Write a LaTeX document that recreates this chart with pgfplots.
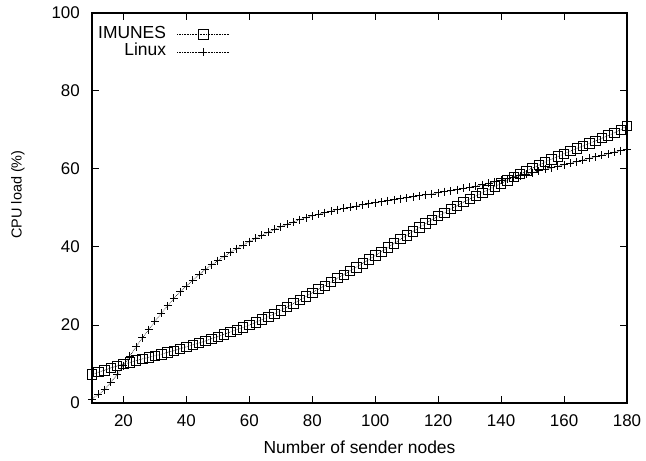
\documentclass[border=0pt]{standalone}
\usepackage{pgfplots}
\pgfplotsset{compat=1.18}
\usepackage{pgfplotstable}
\usepackage{fontspec}
\setmainfont{Liberation Sans}
\pgfplotstableread{
x y
10 7.3
12 7.9
14 8.4
16 9.0
18 9.5
20 10.0
22 10.4
24 10.9
26 11.3
28 11.7
30 12.1
32 12.5
34 13.0
36 13.4
38 13.9
40 14.4
42 14.9
44 15.4
46 15.9
48 16.5
50 17.0
52 17.6
54 18.2
56 18.8
58 19.4
60 20.0
62 20.7
64 21.4
66 22.1
68 22.9
70 23.7
72 24.6
74 25.5
76 26.4
78 27.3
80 28.3
82 29.2
84 30.1
86 31.0
88 32.0
90 32.9
92 33.9
94 34.8
96 35.8
98 36.8
100 37.8
102 38.8
104 39.9
106 40.9
108 42.0
110 43.0
112 44.0
114 45.0
116 46.0
118 47.0
120 47.9
122 48.8
124 49.7
126 50.6
128 51.5
130 52.3
132 53.1
134 53.9
136 54.7
138 55.5
140 56.3
142 57.1
144 57.9
146 58.7
148 59.5
150 60.3
152 61.0
154 61.8
156 62.5
158 63.2
160 63.9
162 64.6
164 65.3
166 65.9
168 66.6
170 67.2
172 67.9
174 68.6
176 69.3
178 70.1
180 71.0
}\imunes
\pgfplotstableread{
x y
10 1.0
12 2.2
14 3.4
16 5.3
18 7.3
20 9.6
22 12.0
24 14.4
26 16.7
28 18.8
30 20.9
32 23.0
34 24.9
36 26.8
38 28.5
40 30.0
42 31.5
44 32.9
46 34.2
48 35.4
50 36.5
52 37.6
54 38.6
56 39.6
58 40.5
60 41.4
62 42.2
64 43.0
66 43.8
68 44.5
70 45.2
72 45.8
74 46.4
76 47.0
78 47.5
80 48.0
82 48.4
84 48.8
86 49.2
88 49.6
90 49.9
92 50.2
94 50.5
96 50.8
98 51.1
100 51.4
102 51.6
104 51.9
106 52.1
108 52.4
110 52.6
112 52.9
114 53.1
116 53.4
118 53.6
120 53.9
122 54.2
124 54.4
126 54.7
128 55.0
130 55.3
132 55.6
134 56.0
136 56.3
138 56.7
140 57.1
142 57.5
144 57.9
146 58.3
148 58.7
150 59.1
152 59.5
154 59.9
156 60.3
158 60.7
160 61.1
162 61.5
164 61.9
166 62.3
168 62.7
170 63.1
172 63.5
174 63.9
176 64.3
178 64.7
180 65.1
}\linux
\begin{document}
\begin{tikzpicture}
\begin{axis}[
  scale only axis, width=535bp, height=390bp,
  xmin=10, xmax=180, ymin=0, ymax=100,
  xtick={20,40,...,180}, ytick={0,20,...,100},
  tick align=inside, major tick length=7bp,
  axis line style={line width=1.1bp}, tick style={line width=1bp, black},
  /pgf/number format/assume math mode=true,
  tick label style={font=\fontsize{17}{20}\selectfont, inner sep=0pt},
  xticklabel style={yshift=-11bp},
  yticklabel style={xshift=-12bp},
  xlabel={Number of sender nodes}, ylabel={CPU load (\%)},
  xlabel style={font=\fontsize{17.5}{20}\selectfont, at={(axis description cs:0.5,0)}, anchor=north, yshift=-38bp, inner sep=0pt},
  ylabel style={font=\fontsize{14.5}{16}\selectfont, at={(axis description cs:-0.13832,0.5346)}, anchor=center, inner sep=0pt},
  clip=false,
  legend plot pos=right, legend cell align=right,
  legend style={draw=none, fill=none, at={(axis description cs:0,1)}, anchor=north west, xshift=6bp, yshift=-12.4bp, inner sep=0pt, column sep=11bp, row sep=0pt, font=\fontsize{17.5}{20}\selectfont, nodes={inner sep=0pt, text height=12.6bp, text depth=5bp}},
  legend image code/.code={\draw[mark repeat=2,mark phase=2,#1] plot coordinates {(0bp,0bp) (26bp,0bp) (52bp,0bp)};},
]
\addplot[black, densely dotted, line width=0.6bp, mark=square, mark size=4.7bp, mark options={solid, line width=0.8bp}] table {\imunes};
\addlegendentry{IMUNES}
\addplot[black, densely dotted, line width=0.6bp, mark=+, mark size=4bp, mark options={solid, line width=0.9bp}] table {\linux};
\addlegendentry{Linux}
\path (axis description cs:0,0) ++(-92bp,-58bp) coordinate (bbA);
\path (axis description cs:1,1) ++(19bp,13bp) coordinate (bbB);
\end{axis}
\path (bbA) rectangle (bbB);
\end{tikzpicture}
\end{document}
